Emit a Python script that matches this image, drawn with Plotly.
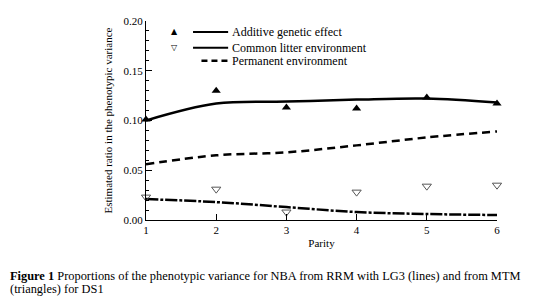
import plotly.graph_objects as go

parity = [1, 2, 3, 4, 5, 6]
additive_rrm = [0.100, 0.117, 0.119, 0.121, 0.122, 0.118]
litter_rrm = [0.021, 0.018, 0.013, 0.008, 0.006, 0.005]
permanent_rrm = [0.056, 0.065, 0.068, 0.075, 0.083, 0.089]
additive_mtm = [0.101, 0.130, 0.113, 0.112, 0.123, 0.117]
litter_mtm = [0.023, 0.031, 0.008, 0.028, 0.034, 0.035]

legend_names = ["Additive genetic effect", "Common litter environment", "Permanent environment"]
y_ticks = [0.00, 0.05, 0.10, 0.15, 0.20]

FONT = "Liberation Serif"

fig = go.Figure()
fig.add_trace(go.Scatter(x=parity, y=additive_rrm, mode="lines", line=dict(color="black", width=2.5, shape="spline"), showlegend=False))
fig.add_trace(go.Scatter(x=parity, y=permanent_rrm, mode="lines", line=dict(color="black", width=2.5, dash="8px,5px", shape="spline"), showlegend=False))
fig.add_trace(go.Scatter(x=parity, y=litter_rrm, mode="lines", line=dict(color="black", width=2.5, dash="12px,2px,3px,2px", shape="spline"), showlegend=False))
fig.add_trace(go.Scatter(x=parity, y=additive_mtm, mode="markers", cliponaxis=False,
                         marker=dict(symbol="triangle-up", size=8, color="black"), showlegend=False))
fig.add_trace(go.Scatter(x=parity, y=litter_mtm, mode="markers", cliponaxis=False,
                         marker=dict(symbol="triangle-down-open", size=8, color="#555", line=dict(width=1)), showlegend=False))

# manual legend
shapes = []
annotations = []
rows_y = [0.189, 0.173, 0.160]
symbols = ["▲", "▽", None]
dashes = ["solid", "solid", "6px,4px"]
for i, (name, yy) in enumerate(zip(legend_names, rows_y)):
    if symbols[i]:
        annotations.append(dict(x=1.41, y=yy, xref="x", yref="y", text=symbols[i], showarrow=False,
                                font=dict(family="DejaVu Sans", size=8, color="black")))
    x0 = 1.67 if i < 2 else 1.79
    shapes.append(dict(type="line", xref="x", yref="y", x0=x0, x1=2.17, y0=yy, y1=yy,
                       line=dict(color="black", width=2 if i < 2 else 2.5, dash=dashes[i])))
    annotations.append(dict(x=2.2, y=yy, xref="x", yref="y", text=name, showarrow=False, xanchor="left",
                            font=dict(family=FONT, size=12, color="black")))

caption1 = "<b>Figure 1</b> Proportions of the phenotypic variance for NBA from RRM with LG3 (lines) and from MTM"
caption2 = "(triangles) for DS1"
annotations.append(dict(x=-138/351, y=-58/205, xref="paper", yref="paper", xanchor="left", yanchor="middle",
                        text=caption1, showarrow=False, font=dict(family=FONT, size=12.4, color="black")))
annotations.append(dict(x=-138/351, y=-71/205, xref="paper", yref="paper", xanchor="left", yanchor="middle",
                        text=caption2, showarrow=False, font=dict(family=FONT, size=12.4, color="black")))

fig.update_layout(
    width=532, height=296,
    margin=dict(l=138, r=43, t=7, b=84),
    paper_bgcolor="white", plot_bgcolor="white",
    font=dict(family=FONT, size=11, color="black"),
    shapes=shapes, annotations=annotations, showlegend=False,
)
fig.update_xaxes(range=[1, 6], tickvals=parity, ticks="inside", ticklen=6, tickcolor="black",
                 showline=True, linecolor="black", linewidth=1, showgrid=False, zeroline=False,
                 title=dict(text="Parity", font=dict(family=FONT, size=11, color="black"), standoff=4),
                 tickfont=dict(family=FONT, size=11, color="black"))
fig.update_yaxes(range=[0, 0.2], tickvals=y_ticks, tickformat=".2f", ticks="inside", ticklen=6, tickcolor="black",
                 minor=dict(dtick=0.01, ticks="inside", ticklen=3, tickcolor="black"),
                 showline=True, linecolor="black", linewidth=1, showgrid=False, zeroline=False,
                 title=dict(text="Estimated ratio in the phenotypic variance", font=dict(family=FONT, size=11, color="black"), standoff=8),
                 tickfont=dict(family=FONT, size=11, color="black"))

fig.write_html("out.html")
